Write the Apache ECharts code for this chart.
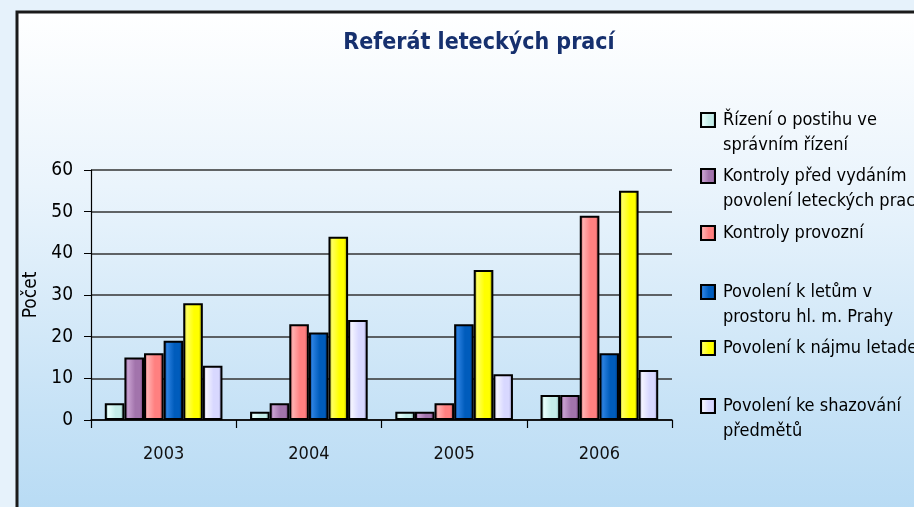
<!DOCTYPE html>
<html>
<head>
    <meta charset="utf-8">
    <title>Referát leteckých prací</title>
    <script type="text/javascript" src="https://cdn.jsdelivr.net/npm/echarts@6/dist/echarts.min.js"></script>
    <style>
        html, body { margin: 0; padding: 0; }
        #chart { width: 914px; height: 507px; }
    </style>
</head>
<body>
<div id="chart"></div>
<script type="text/javascript">
    // data
    var years = ['2003', '2004', '2005', '2006'];
    var rizeni = [4, 2, 2, 6];
    var kontrolyPred = [15, 4, 2, 6];
    var kontrolyProvozni = [16, 23, 4, 49];
    var letyPraha = [19, 21, 23, 16];
    var najemLetadel = [28, 44, 36, 55];
    var shazovani = [13, 24, 11, 12];
    var yTicks = [0, 10, 20, 30, 40, 50, 60];

    var line1 = ['Řízení o postihu ve', 'Kontroly před vydáním', 'Kontroly provozní',
                 'Povolení k letům v', 'Povolení k nájmu letadel', 'Povolení ke shazování'];
    var line2 = ['správním řízení', 'povolení leteckých prací', '',
                 'prostoru hl. m. Prahy', '', 'předmětů'];

    var font = '"Liberation Sans Narrow", "DejaVu Sans Condensed", "Liberation Sans", sans-serif';

    // dark edge, light, base, dark edge
    var colours = [
        ['#5c8c88', '#e8fffc', '#c4ece8', '#6a9a96'],
        ['#6a3a76', '#c8a0d0', '#a274ac', '#60306a'],
        ['#a84848', '#ffb0b0', '#ff8080', '#a04040'],
        ['#003070', '#2a80e0', '#005cbc', '#002a66'],
        ['#8a8a00', '#ffff60', '#ffff00', '#808000'],
        ['#9090c0', '#f4f4ff', '#d8d8ff', '#8888b8']
    ];
    var values = [rizeni, kontrolyPred, kontrolyProvozni, letyPraha, najemLetadel, shazovani];

    function barFill(c) {
        return new echarts.graphic.LinearGradient(0, 0, 1, 0, [
            {offset: 0, color: c[0]},
            {offset: 0.18, color: c[1]},
            {offset: 0.55, color: c[2]},
            {offset: 0.8, color: c[2]},
            {offset: 1, color: c[3]}
        ]);
    }

    var legendTops = [120, 176, 233, 292, 348, 406];
    var series = [];
    var legends = [];
    var graphics = [
        {
            type: 'rect', silent: true, z: -10,
            shape: {x: 17, y: 12, width: 900, height: 500},
            style: {
                fill: new echarts.graphic.LinearGradient(0, 0, 0, 1, [
                    {offset: 0, color: '#ffffff'},
                    {offset: 0.35, color: '#eaf4fc'},
                    {offset: 0.8, color: '#c6e2f6'},
                    {offset: 1, color: '#b8dbf4'}
                ])
            }
        },
        {
            type: 'polyline', silent: true, z: -5,
            shape: {points: [[17, 507], [17, 12], [914, 12]]},
            style: {stroke: '#1a1a1a', lineWidth: 3, fill: null}
        }
    ];

    for (var i = 0; i < values.length; i++) {
        series.push({
            name: line1[i],
            type: 'bar',
            data: values[i],
            barGap: '0%',
            barCategoryGap: '19%',
            itemStyle: {color: barFill(colours[i]), borderColor: '#000', borderWidth: 2}
        });
        legends.push({
            data: [line1[i]],
            left: 700,
            top: legendTops[i] - 11,
            padding: 0,
            icon: 'rect',
            itemWidth: 14,
            itemHeight: 14,
            itemStyle: {borderColor: '#000', borderWidth: 2},
            selectedMode: false,
            textStyle: {fontFamily: font, fontSize: 18, color: '#000', lineHeight: 22, padding: [0, 0, 0, 3]}
        });
        if (line2[i]) {
            graphics.push({
                type: 'text', silent: true,
                left: 723, top: legendTops[i] + 16,
                style: {text: line2[i], font: '18px ' + font, fill: '#000'}
            });
        }
    }

    var myChart = echarts.init(document.getElementById('chart'));
    var option = {
        backgroundColor: '#e6f2fb',
        animation: false,
        title: {
            text: 'Referát leteckých prací',
            left: 474, top: 27, textAlign: 'center',
            textStyle: {fontFamily: font, fontSize: 23, fontWeight: 'bold', color: '#16306e'}
        },
        graphic: graphics,
        legend: legends,
        grid: {left: 91, right: 242, top: 170, bottom: 87},
        xAxis: {
            type: 'category',
            data: years,
            axisLine: {lineStyle: {color: '#000', width: 1.5}},
            axisTick: {show: true, length: 8, lineStyle: {color: '#000', width: 1.2}},
            axisLabel: {fontFamily: font, fontSize: 18, color: '#111', margin: 25}
        },
        yAxis: {
            type: 'value',
            min: yTicks[0],
            max: yTicks[yTicks.length - 1],
            interval: 10,
            name: 'Počet',
            nameLocation: 'middle',
            nameGap: 47,
            nameRotate: 90,
            nameTextStyle: {fontFamily: font, fontSize: 19, color: '#000'},
            axisLine: {show: true, lineStyle: {color: '#000', width: 1.2}},
            axisTick: {show: true, length: 7, lineStyle: {color: '#000'}},
            axisLabel: {fontFamily: font, fontSize: 19, color: '#000', margin: 18},
            splitLine: {lineStyle: {color: '#333', width: 1.5}}
        },
        series: series
    };
    myChart.setOption(option);
</script>
</body>
</html>
